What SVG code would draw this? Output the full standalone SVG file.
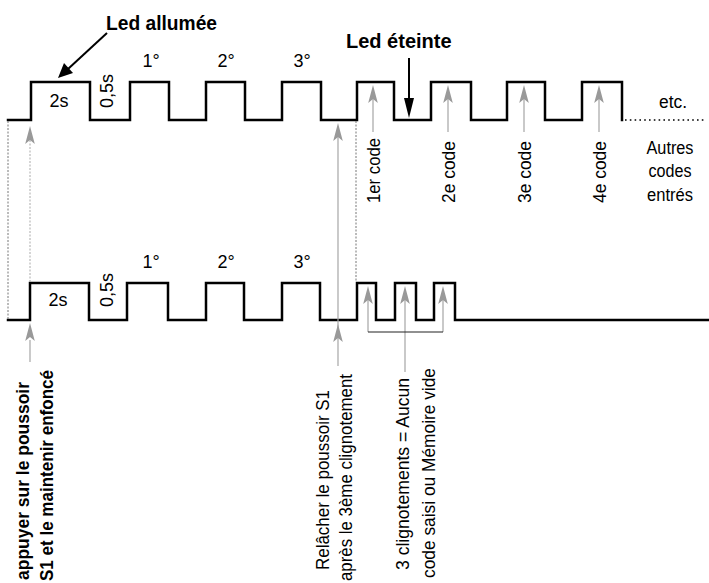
<svg xmlns="http://www.w3.org/2000/svg" width="709" height="583" viewBox="0 0 709 583">
<style>
.wave{fill:none;stroke:#000;stroke-width:2.5;stroke-linejoin:miter;stroke-linecap:square}
.dotk{fill:none;stroke:#000;stroke-width:1.6;stroke-dasharray:1.6 3.2}
.dotg{fill:none;stroke:#777;stroke-width:1;stroke-dasharray:2 1.5}
.dotl{fill:none;stroke:#aaa;stroke-width:1;stroke-dasharray:2 1.5}
.gl{fill:none;stroke:#a6a6a6;stroke-width:1.2}
.gh{fill:#999;stroke:none}
.kl{fill:none;stroke:#000;stroke-width:2}
.kh{fill:#000;stroke:none}
.br{fill:none;stroke:#222;stroke-width:1.2}
text{font-family:"Liberation Sans",Arial,sans-serif;font-size:17px;fill:#000}
.s{font-size:18px}
.L{font-size:19px}
.b{font-weight:bold}
.h{font-size:20px;font-weight:bold}
.m{text-anchor:middle}
</style>
<defs>
<path id="ga" d="M0,0 L4.8,18 L0,14 L-4.8,18 Z"/>
</defs>

<g id="connectors">
  <path class="wave" d="M8,120 H31 V82 H90 V120 H130 V82 H169 V120 H206 V82 H245 V120 H282 V82 H321 V120 H357 V82 H394 V120 H431 V82 H471 V120 H507 V82 H545 V120 H582 V82 H622 V120"/>
  <path class="dotk" d="M625,120 H706"/>
  <path class="wave" d="M8,320 H30 V283 H89 V320 H127 V283 H168 V320 H206 V283 H244 V320 H282 V283 H320 V320 H357 V283 H376 V320 H395 V283 H416 V320 H434 V283 H455 V320 H709"/>
  <path class="dotg" d="M8,121 V319"/>
  <path class="dotg" d="M356,121 V282"/>
  <path class="dotl" d="M30,140 V282"/>
  <use href="#ga" class="gh" x="30" y="126"/>
  <path class="gl" d="M30,340 V362"/>
  <use href="#ga" class="gh" x="30" y="323"/>
  <path class="gl" d="M338,136 V366"/>
  <use href="#ga" class="gh" x="338" y="123"/>
  <use href="#ga" class="gh" x="338" y="324"/>
  <path class="gl" d="M373,98 V132 M448,98 V132 M524,98 V132 M599,98 V132"/>
  <use href="#ga" class="gh" x="373" y="85"/>
  <use href="#ga" class="gh" x="448" y="85"/>
  <use href="#ga" class="gh" x="524" y="85"/>
  <use href="#ga" class="gh" x="599" y="85"/>
  <path class="gl" d="M368,300 V332 M405,300 V372 M443,300 V332"/>
  <path class="br" d="M368,332 H443"/>
  <use href="#ga" class="gh" x="368" y="286"/>
  <use href="#ga" class="gh" x="405" y="286"/>
  <use href="#ga" class="gh" x="443" y="286"/>
  <path class="kl" d="M107,33 L68,69"/>
  <path class="kh" d="M58,78 L64,63 L73,73 Z"/>
  <path class="kl" d="M409,58 V102"/>
  <path class="kh" d="M409,118 L404,98 L414,98 Z"/>
</g>

<g id="led-allumee"><text class="h" x="106" y="30" textLength="111" lengthAdjust="spacingAndGlyphs">Led allumée</text></g>
<g id="led-eteinte"><text class="h" x="346" y="48">Led éteinte</text></g>

<g id="top-labels">
  <text class="m s" x="59" y="107">2s</text>
  <text class="m s" transform="translate(113,91) rotate(-90)">0,5s</text>
  <text class="m s" x="151" y="67">1°</text>
  <text class="m s" x="226" y="67">2°</text>
  <text class="m s" x="302" y="67">3°</text>
</g>

<g id="bottom-labels">
  <text class="m s" x="58" y="306">2s</text>
  <text class="m s" transform="translate(113,290) rotate(-90)">0,5s</text>
  <text class="m s" x="151" y="268">1°</text>
  <text class="m s" x="226" y="268">2°</text>
  <text class="m s" x="302" y="268">3°</text>
</g>

<g id="codes">
  <text class="s" transform="translate(380,203) rotate(-90)" textLength="65" lengthAdjust="spacingAndGlyphs">1er code</text>
  <text class="s" transform="translate(455,203) rotate(-90)" textLength="62" lengthAdjust="spacingAndGlyphs">2e code</text>
  <text class="s" transform="translate(531,203) rotate(-90)" textLength="62" lengthAdjust="spacingAndGlyphs">3e code</text>
  <text class="s" transform="translate(606,203) rotate(-90)" textLength="62" lengthAdjust="spacingAndGlyphs">4e code</text>
</g>

<g id="autres">
  <text class="m s" x="673" y="108" textLength="28" lengthAdjust="spacingAndGlyphs">etc.</text>
  <text class="m s" x="670" y="154" textLength="47" lengthAdjust="spacingAndGlyphs">Autres</text>
  <text class="m s" x="670" y="177" textLength="43" lengthAdjust="spacingAndGlyphs">codes</text>
  <text class="m s" x="670" y="201" textLength="46" lengthAdjust="spacingAndGlyphs">entrés</text>
</g>

<g id="appuyer">
  <text class="L b" transform="translate(29,580) rotate(-90)" textLength="198" lengthAdjust="spacingAndGlyphs">appuyer sur le poussoir</text>
  <text class="L b" transform="translate(53,581) rotate(-90)" textLength="211" lengthAdjust="spacingAndGlyphs">S1 et le maintenir enfoncé</text>
</g>

<g id="relacher">
  <text class="L" transform="translate(329,570) rotate(-90)" textLength="180" lengthAdjust="spacingAndGlyphs">Relâcher le poussoir S1</text>
  <text class="L" transform="translate(352,581) rotate(-90)" textLength="207" lengthAdjust="spacingAndGlyphs">après le 3ème clignotement</text>
</g>

<g id="clignotements">
  <text class="L" transform="translate(409,570) rotate(-90)" textLength="192" lengthAdjust="spacingAndGlyphs">3 clignotements = Aucun</text>
  <text class="L" transform="translate(435,578) rotate(-90)" textLength="210" lengthAdjust="spacingAndGlyphs">code saisi ou Mémoire vide</text>
</g>
</svg>
